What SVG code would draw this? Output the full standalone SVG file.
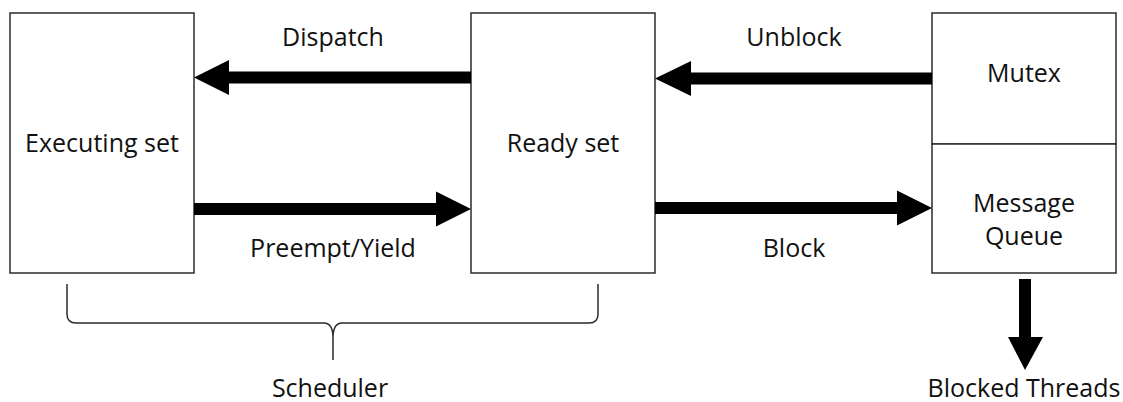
<svg xmlns="http://www.w3.org/2000/svg" width="1123" height="402" viewBox="0 0 1123 402">
  <style>
    .box { fill: #ffffff; stroke: #2b2b2b; stroke-width: 1.5; }
    .lbl { font-family: "Open Sans", "Liberation Sans", sans-serif; font-size: 25px; fill: #111111; text-anchor: middle; }
    .arrow { fill: #000000; stroke: none; }
    .brace { fill: none; stroke: #2b2b2b; stroke-width: 1.5; }
  </style>
  <rect width="1123" height="402" fill="#ffffff"/>

  <g id="executing-set">
    <rect class="box" x="10" y="13" width="184" height="260"/>
    <text class="lbl" x="102" y="152">Executing set</text>
  </g>

  <g id="ready-set">
    <rect class="box" x="471" y="13" width="184" height="260"/>
    <text class="lbl" x="563" y="152">Ready set</text>
  </g>

  <g id="mutex">
    <rect class="box" x="932" y="13" width="184" height="131"/>
    <text class="lbl" x="1024" y="82">Mutex</text>
  </g>

  <g id="message-queue">
    <rect class="box" x="932" y="144" width="184" height="129"/>
    <text class="lbl" x="1024" y="212">Message</text>
    <text class="lbl" x="1024" y="245">Queue</text>
  </g>

  <g id="connectors">
    <!-- Dispatch: ready -> executing -->
    <rect class="arrow" x="228" y="71.5" width="243" height="12"/>
    <polygon class="arrow" points="194,77.5 229,60 229,95"/>
    <!-- Preempt/Yield: executing -> ready -->
    <rect class="arrow" x="194" y="203" width="243" height="12"/>
    <polygon class="arrow" points="471,209 436,191.5 436,226.5"/>
    <!-- Unblock: mutex -> ready -->
    <rect class="arrow" x="690" y="72.5" width="242" height="12"/>
    <polygon class="arrow" points="655,78.5 691,61 691,96"/>
    <!-- Block: ready -> message queue -->
    <rect class="arrow" x="655" y="202" width="243" height="12"/>
    <polygon class="arrow" points="932,208 897,190.5 897,225.5"/>
    <!-- down to blocked threads -->
    <rect class="arrow" x="1019" y="279" width="12" height="59"/>
    <polygon class="arrow" points="1008,337 1043,337 1025,370"/>
  </g>

  <g id="edge-labels">
    <text class="lbl" x="333" y="46">Dispatch</text>
    <text class="lbl" x="333" y="257">Preempt/Yield</text>
    <text class="lbl" x="794" y="46">Unblock</text>
    <text class="lbl" x="794" y="257">Block</text>
  </g>

  <g id="scheduler">
    <!-- curly brace spanning both scheduler sets -->
    <path class="brace" d="M67,284 V314 Q67,323 76,323 H324 Q333,323 333,338 V360 M333,338 Q333,323 342,323 H589 Q598,323 598,314 V284"/>
    <text class="lbl" x="330" y="397">Scheduler</text>
  </g>

  <g id="blocked-threads">
    <text class="lbl" x="1024" y="397">Blocked Threads</text>
  </g>
</svg>
